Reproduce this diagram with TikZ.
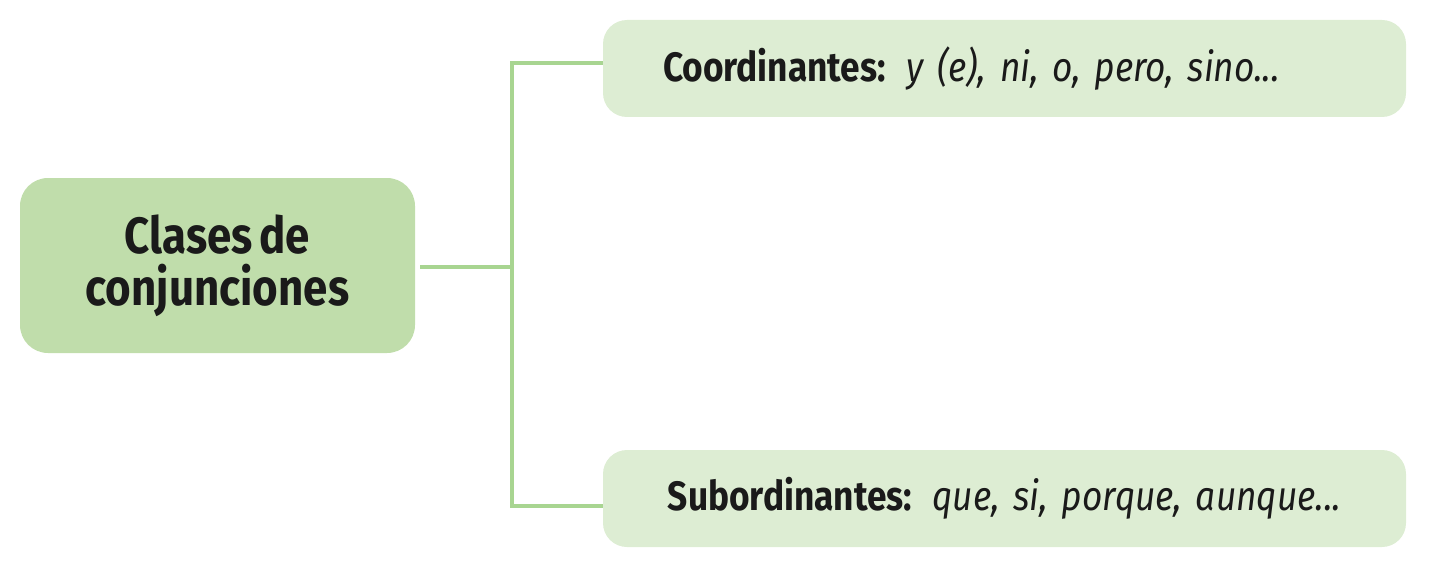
\documentclass[tikz,border=0pt]{standalone}
\usepackage{fontspec}
\setmainfont[FakeStretch=0.86,WordSpace=0.65]{Fira Sans}
\usepackage{tikz}
\usetikzlibrary{positioning,calc}
\definecolor{rootfill}{HTML}{C0DDAB}
\definecolor{leaffill}{HTML}{DDEDD3}
\definecolor{linkgreen}{HTML}{A8D591}
\definecolor{ink}{HTML}{1A1A1A}
\tikzset{
  root/.style={fill=rootfill,rounded corners=28pt,minimum width=395pt,minimum height=175pt,
    align=center,text=ink,font=\fontsize{51}{52}\selectfont\bfseries},
  leaf/.style={fill=leaffill,rounded corners=24pt,minimum width=803pt,minimum height=97pt,
    inner xsep=50pt,text width=703pt,text=ink,font=\fontsize{41}{46}\selectfont},
  link/.style={linkgreen,line width=4pt}
}
\begin{document}
\begin{tikzpicture}[x=1pt,y=-1pt]
\useasboundingbox (0,0) rectangle (1440,575);
\node[root] (clases) at (217.5,265.5) {Clases de\\conjunciones};
\node[leaf,align=left] (coord) at (1004.5,68.5) {\hspace*{10pt}\textbf{Coordinantes:} \textit{y (e), ni, o, pero, sino...}};
\node[leaf,align=center] (sub) at (1004.5,498.5) {\textbf{Subordinantes:} \textit{que, si, porque, aunque...}};
\coordinate (fork) at (512,267);
\coordinate (coordin) at ([yshift=5.5pt]coord.west);
\coordinate (subin) at ([yshift=-7.5pt]sub.west);
% branches
\draw[link] ([xshift=5pt]clases.east |- fork) -- (fork);
\draw[link] (coordin) -| (fork) |- (subin);
\end{tikzpicture}
\end{document}
